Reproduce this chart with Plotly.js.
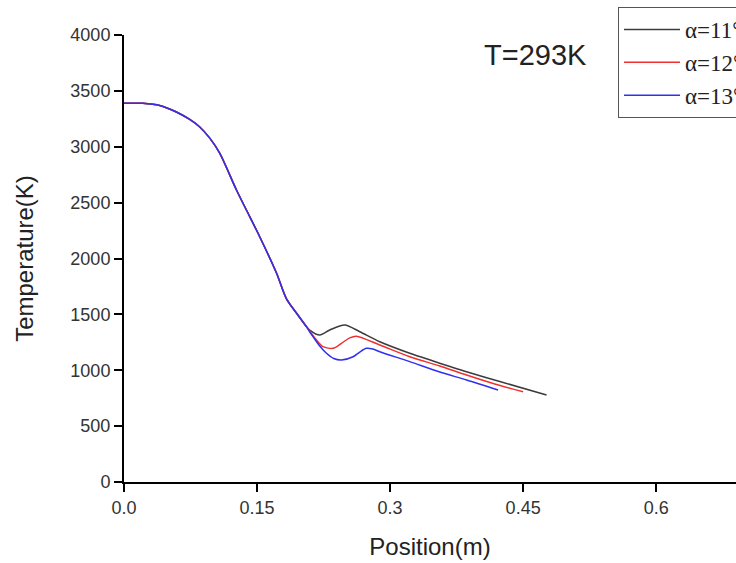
<!DOCTYPE html>
<html>
<head>
<meta charset="utf-8">
<script src="https://cdn.plot.ly/plotly-3.0.1.min.js"></script>
<style>html,body{margin:0;padding:0;background:#fff;}#chart{width:736px;height:563px;}</style>
</head>
<body>
<div id="chart"></div>
<script>
// Shared upstream part (all three curves coincide)
var commonX = [0, 0.021, 0.0403, 0.0591, 0.0741, 0.0854, 0.0967, 0.1079, 0.1268, 0.138, 0.153, 0.1719, 0.1832, 0.1944, 0.2057];
var commonY = [3389, 3389, 3370, 3311, 3244, 3177, 3077, 2943, 2613, 2434, 2195, 1870, 1638, 1512, 1390];

// alpha = 11 deg
var x11 = [0.2094, 0.2207, 0.2320, 0.2489, 0.2658, 0.2884, 0.3222, 0.3485, 0.3862, 0.4237, 0.4764];
var y11 = [1360, 1315, 1360, 1405, 1345, 1255, 1152, 1083, 987, 899, 779];

// alpha = 12 deg
var x12 = [0.2094, 0.2170, 0.2244, 0.2357, 0.2452, 0.2545, 0.2620, 0.2884, 0.3222, 0.3560, 0.3862, 0.4180, 0.4500];
var y12 = [1351, 1271, 1211, 1196, 1241, 1290, 1305, 1226, 1121, 1038, 957, 877, 808];

// alpha = 13 deg
var x13 = [0.2094, 0.2132, 0.2207, 0.2283, 0.2365, 0.2452, 0.2583, 0.2658, 0.2734, 0.2805, 0.2884, 0.3222, 0.3560, 0.3862, 0.4218];
var y13 = [1342, 1300, 1217, 1152, 1105, 1092, 1121, 1163, 1196, 1190, 1166, 1077, 984, 913, 823];

var seriesNames = ["α=11°", "α=12°", "α=13°"];
var seriesColors = ["#3c3c3c", "#ee3030", "#3030ee"];

var xTickVals = [0, 0.15, 0.3, 0.45, 0.6];
var xTickText = ["0.0", "0.15", "0.3", "0.45", "0.6"];
var yTickVals = [0, 500, 1000, 1500, 2000, 2500, 3000, 3500, 4000];

var tails = [[x11, y11], [x12, y12], [x13, y13]];
var traces = tails.map(function (t, i) {
  return {
    x: commonX.concat(t[0]),
    y: commonY.concat(t[1]),
    type: "scatter",
    mode: "lines",
    name: seriesNames[i],
    line: {color: seriesColors[i], width: 1.5, shape: "spline", smoothing: 0.8}
  };
});

var axisFont = {family: "Liberation Sans, Arial, sans-serif", size: 18, color: "#333"};
var titleFont = {family: "Liberation Sans, Arial, sans-serif", size: 24, color: "#222"};

var layout = {
  width: 736,
  height: 563,
  margin: {l: 124, r: 0, t: 35, b: 81, autoexpand: false},
  paper_bgcolor: "#fff",
  plot_bgcolor: "#fff",
  showlegend: true,
  legend: {
    x: 0.8072, y: 1.0626, xanchor: "left", yanchor: "top",
    bordercolor: "#555", borderwidth: 1, bgcolor: "#fff",
    font: {family: "Liberation Serif, Times New Roman, serif", size: 23, color: "#222"},
    itemwidth: 56
  },
  xaxis: {
    range: [0, 0.69],
    tickvals: xTickVals, ticktext: xTickText,
    showgrid: false, zeroline: false,
    showline: true, linecolor: "#000", linewidth: 2,
    ticks: "outside", ticklen: 8, tickwidth: 2, tickcolor: "#000",
    tickfont: axisFont,
    title: {text: "Position(m)", font: titleFont, standoff: 22}
  },
  yaxis: {
    range: [0, 4000],
    tickvals: yTickVals,
    showgrid: false, zeroline: false,
    showline: true, linecolor: "#000", linewidth: 2,
    ticks: "outside", ticklen: 8, tickwidth: 2, tickcolor: "#000",
    tickfont: axisFont,
    title: {text: "Temperature(K)", font: titleFont, standoff: 30}
  },
  annotations: [{
    text: "T=293K", xref: "paper", yref: "paper", x: 0.673, y: 0.955,
    xanchor: "center", yanchor: "middle", showarrow: false,
    font: {family: "Liberation Sans, Arial, sans-serif", size: 29, color: "#222"}
  }]
};

Plotly.newPlot("chart", traces, layout, {displayModeBar: false, staticPlot: true});
</script>
</body>
</html>
